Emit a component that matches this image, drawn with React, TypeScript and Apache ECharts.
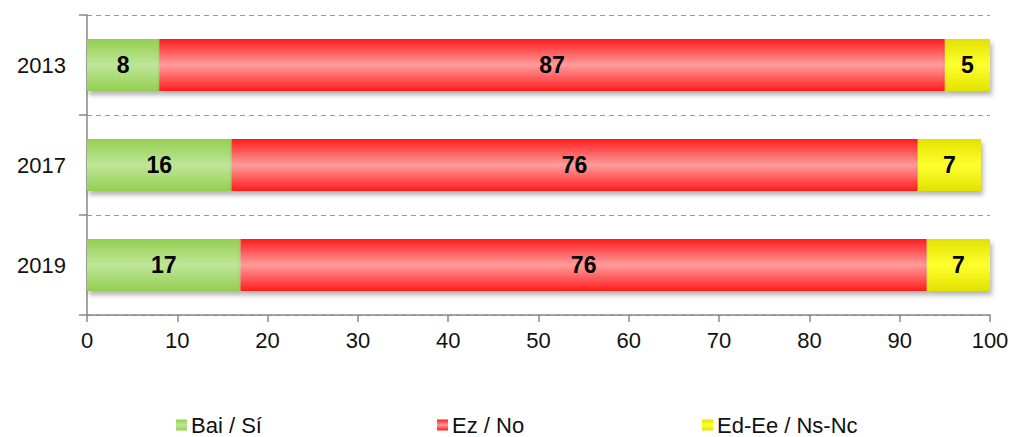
import React, { useEffect, useRef } from "react";
import * as echarts from "echarts";

const categories = ["2013", "2017", "2019"];
const seriesNames = ["Bai / Sí", "Ez / No", "Ed-Ee / Ns-Nc"];
const baiValues = [8, 16, 17];
const ezValues = [87, 76, 76];
const edValues = [5, 7, 7];
const xTicks = [0, 10, 20, 30, 40, 50, 60, 70, 80, 90, 100];

const grad = (edge: string, mid: string) =>
  new echarts.graphic.LinearGradient(0, 0, 0, 1, [
    { offset: 0, color: edge },
    { offset: 0.5, color: mid },
    { offset: 1, color: edge },
  ]);

export default function App() {
  const ref = useRef<HTMLDivElement>(null);
  useEffect(() => {
    if (!ref.current) return;
    const chart = echarts.init(ref.current, null, { renderer: "svg" });
    const font = "'Liberation Sans', Arial, sans-serif";
    const colors = [
      grad("#94cf50", "#bfe699"),
      grad("#ff1c1c", "#ff9c9c"),
      grad("#e2e200", "#ffff30"),
    ];
    const data = [baiValues, ezValues, edValues];
    const legendLefts = [176, 437, 702];
    chart.setOption({
      animation: false,
      textStyle: { fontFamily: font },
      grid: { left: 87, right: 23, top: 15, bottom: 122, containLabel: false },
      legend: seriesNames.map((n, i) => ({
        data: [n],
        left: legendLefts[i],
        top: 414,
        padding: 0,
        itemWidth: 11,
        itemHeight: 11,
        itemGap: 0,
        icon: "rect",
        textStyle: {
          fontSize: 22,
          lineHeight: 22,
          color: "#111",
          fontFamily: font,
          padding: [0, 0, 0, -1],
        },
      })),
      xAxis: {
        type: "value",
        min: 0,
        max: 100,
        interval: 10,
        axisLine: { show: true, lineStyle: { color: "#888", width: 1.5 } },
        axisTick: { show: true, length: 7, lineStyle: { color: "#888", width: 1.5 } },
        axisLabel: {
          fontSize: 22,
          color: "#111",
          margin: 14,
          fontFamily: font,
          formatter: (v: number) => (xTicks.includes(v) ? String(v) : ""),
        },
        splitLine: { show: false },
      },
      yAxis: {
        type: "category",
        data: categories,
        inverse: true,
        axisLine: { show: true, lineStyle: { color: "#888", width: 1.5 } },
        axisTick: { show: true, length: 8, lineStyle: { color: "#888", width: 1.5 } },
        axisLabel: { fontSize: 22, color: "#111", margin: 21, fontFamily: font },
        splitLine: { show: true, lineStyle: { color: "#999", type: [5, 4], width: 1.2 } },
      },
      series: seriesNames.map((n, i) => ({
        name: n,
        type: "bar",
        stack: "total",
        barWidth: "52%",
        data: data[i],
        itemStyle: {
          color: colors[i],
          shadowColor: "rgba(0,0,0,0.3)",
          shadowOffsetY: 4,
          shadowOffsetX: 2,
          shadowBlur: 5,
        },
        label: {
          show: true,
          position: "inside",
          fontSize: 23,
          fontWeight: "bold",
          color: "#000",
          fontFamily: font,
        },
      })),
    });
    return () => chart.dispose();
  }, []);
  return (
    <div
      ref={ref}
      style={{ position: "fixed", left: 0, top: 0, width: 1013, height: 437, background: "#fff" }}
    />
  );
}
